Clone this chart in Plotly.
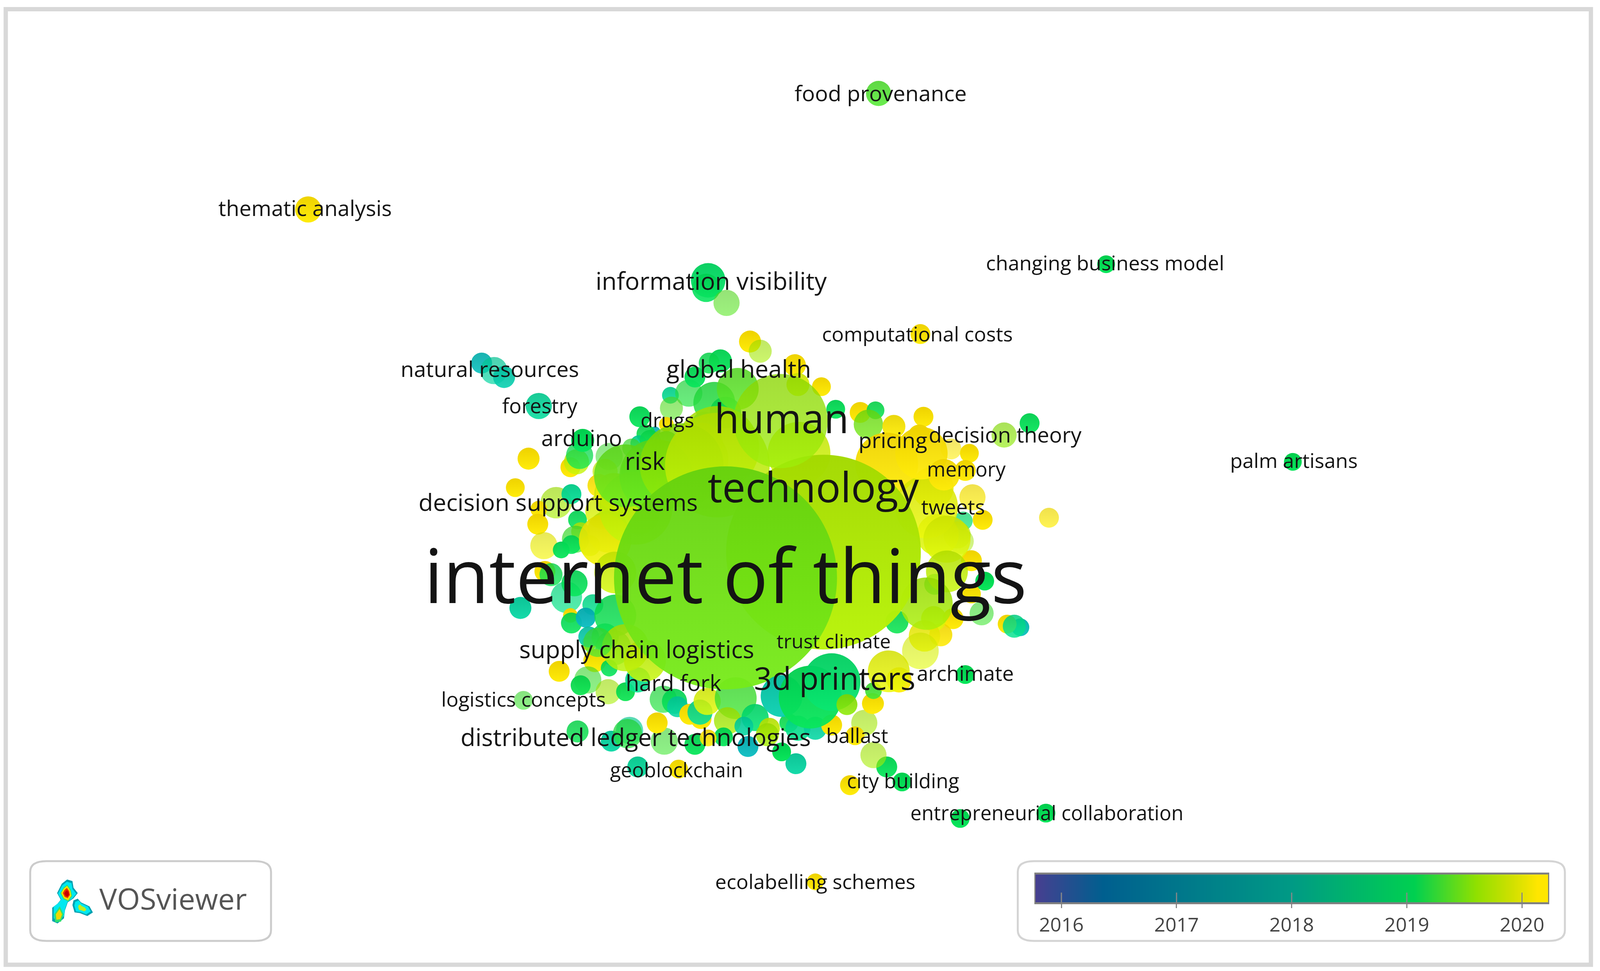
import numpy as np
import plotly.graph_objects as go

# coordinates are read in a 1568 x 904 view of the picture.
# the browser clamps the page to 4096 wide, so the figure fills that instead of 4310
VIEW_W = 1568
VIEW_H = 904
FIG_W = 4096
FIG_H = 2486
REF_W = 4310
PX = (FIG_W / VIEW_W * FIG_H / VIEW_H) ** 0.5
TEXT_K = 0.96

labels = ["internet of things", "technology", "human", "3d printers", "information visibility",
          "decision support systems", "supply chain logistics", "distributed ledger technologies",
          "global health", "natural resources", "food provenance", "thematic analysis",
          "changing business model", "computational costs", "forestry", "drugs", "arduino", "risk",
          "pricing", "decision theory", "memory", "tweets", "palm artisans", "trust climate",
          "hard fork", "archimate", "logistics concepts", "ballast", "geoblockchain",
          "city building", "entrepreneurial collaboration", "ecolabelling schemes"]
label_x = [711, 797, 766, 818, 697, 547, 624, 623, 724, 480, 863, 299, 1083, 899, 529, 654, 570, 632,
           875, 985, 947, 934, 1268, 817, 660, 946, 513, 840, 663, 885, 1026, 799]
label_y = [544, 458, 394, 635, 264, 470, 607, 689, 346, 346, 89, 196, 247, 313, 380, 393, 410, 432,
           412, 407, 439, 474, 431, 599, 638, 629, 653, 687, 719, 729, 759, 823]
label_size = [200, 110, 108, 84, 65, 63, 64, 64.5, 64, 58, 58, 57.5, 54, 54, 55, 54, 59, 64,
              58, 57, 53.5, 55, 54, 52, 59, 55, 54, 54, 53, 53.5, 53, 54]

node_x = [861, 302, 694, 692, 712, 1084, 902, 472, 484, 494,
          528, 1267, 1028, 984, 1009, 510, 513, 799, 941, 1025,
          946, 833, 884, 869, 856, 847, 857, 780, 766, 733,
          665, 625, 599, 617, 615, 566, 651, 681, 644, 548,
          518, 505, 735, 745, 779, 805, 905, 1000, 987, 994,
          962, 965, 952, 963, 953, 950, 932, 946, 944, 938,
          942, 952, 916, 934, 922, 915, 906, 902, 879, 881,
          559, 565, 568, 571, 627, 597, 593, 587, 545, 560,
          528, 527, 533, 534, 566, 569, 564, 550, 578, 560,
          540, 555, 563, 559, 560, 581, 574, 577, 577, 593,
          601, 583, 597, 576, 569, 596, 613, 625, 650, 661,
          664, 676, 687, 686, 693, 721, 713, 740, 729, 709,
          694, 754, 752, 773, 782, 799, 815, 838, 855, 856,
          657, 675, 681, 706, 695, 658, 642, 653, 690, 700,
          711, 633, 626, 637, 653, 619, 626, 623, 646, 651,
          603, 591, 596, 626, 601, 683, 688, 723, 703, 783,
          843, 858, 851, 876, 901, 869, 914, 919, 782, 819,
          908, 928, 928, 908, 903, 925, 593, 603, 623, 613, 643, 668, 703, 603, 613, 632, 586,
          807, 711, 765, 766, 794, 815, 871, 830]
node_y = [87, 195, 261, 268, 282, 246, 311, 338, 345, 351,
          378, 430, 482, 405, 394, 566, 652, 821, 762, 757,
          628, 731, 728, 714, 703, 673, 655, 711, 700, 695,
          716, 714, 690, 680, 683, 681, 690, 693, 673, 625,
          427, 454, 318, 327, 340, 360, 388, 584, 581, 583,
          571, 541, 553, 484, 463, 422, 418, 438, 485, 498,
          504, 522, 544, 576, 591, 576, 592, 606, 579, 633,
          435, 430, 424, 410, 388, 425, 439, 452, 468, 460,
          474, 488, 508, 532, 484, 495, 502, 512, 508, 507,
          535, 556, 543, 573, 580, 563, 575, 599, 593, 593,
          603, 615, 622, 633, 638, 644, 644, 633, 651, 653,
          658, 665, 669, 663, 653, 650, 671, 668, 676, 686,
          687, 678, 684, 673, 678, 678, 675, 685, 655, 643,
          368, 366, 351, 336, 338, 380, 402, 395, 395, 375,
          384, 404, 413, 410, 413, 417, 439, 450, 428, 435,
          460, 476, 495, 478, 457, 428, 413, 362, 417, 422,
          384, 382, 395, 397, 406, 432, 454, 498, 358, 381,
          472, 502, 532, 562, 422, 442, 503, 533, 473, 443, 443, 433, 433, 573, 603, 615, 598,
          514, 538, 392, 648, 649, 635, 625, 656]
node_weight = [24, 25, 33, 27, 25, 17, 19, 20, 26, 21,
               25, 17, 19, 24, 19, 21, 18, 16, 18, 18,
               18, 19, 18, 20, 25, 25, 18, 20, 18, 20,
               18, 20, 20, 26, 28, 21, 26, 20, 20, 20,
               21, 18, 21, 22, 21, 18, 19, 17, 18, 22,
               23, 18, 18, 19, 25, 18, 20, 20, 18, 26,
               24, 20, 20, 20, 22, 24, 30, 35, 22, 24,
               19, 24, 26, 22, 20, 26, 24, 22, 30, 19,
               16, 20, 26, 20, 18, 18, 26, 16, 20, 18,
               22, 30, 25, 14, 20, 20, 19, 14, 20, 26,
               34, 22, 16, 26, 19, 24, 18, 24, 26, 24,
               20, 20, 20, 24, 26, 40, 26, 26, 18, 18,
               16, 20, 22, 18, 24, 22, 20, 18, 20, 16,
               16, 26, 20, 22, 20, 22, 10, 14, 24, 40,
               30, 18, 16, 20, 24, 18, 34, 24, 34, 50,
               40, 34, 40, 40, 34, 60, 40, 40, 80, 60,
               20, 17, 28, 22, 22, 60, 40, 40, 22, 18,
               60, 45, 40, 50, 50, 30, 50, 40, 70, 60, 70, 80, 100, 40, 45, 40, 28,
               186, 213, 90, 40, 60, 55, 40, 20]
node_year = [2019.35, 2020.2, 2018.9, 2019.0, 2019.4, 2019.05, 2020.2, 2017.6, 2018.2, 2018.0,
             2018.3, 2019.05, 2020.1, 2019.6, 2019.05, 2018.2, 2019.3, 2020.2, 2019.05, 2019.05,
             2019.05, 2020.2, 2019.05, 2019.05, 2019.7, 2019.7, 2020.2, 2018.2, 2019.05, 2017.5,
             2020.2, 2018.3, 2018.2, 2018.3, 2019.2, 2019.1, 2019.3, 2019.05, 2020.2, 2020.2,
             2020.2, 2020.2, 2020.2, 2019.7, 2020.2, 2020.2, 2020.2, 2017.7, 2020.2, 2018.5,
             2019.3, 2019.05, 2020.2, 2020.2, 2020.1, 2020.2, 2020.1, 2020.2, 2018.8, 2019.8,
             2019.7, 2020.2, 2019.1, 2020.2, 2020.2, 2019.9, 2020.0, 2019.9, 2019.1, 2020.1,
             2020.2, 2019.8, 2019.1, 2019.05, 2019.05, 2019.3, 2019.8, 2020.2, 2019.7, 2018.4,
             2020.2, 2020.2, 2020.0, 2020.2, 2019.05, 2019.8, 2019.3, 2019.05, 2019.7, 2019.05,
             2019.1, 2018.6, 2019.05, 2020.2, 2019.05, 2018.5, 2017.5, 2020.2, 2018.0, 2018.9,
             2019.1, 2020.1, 2019.05, 2019.3, 2019.1, 2019.7, 2019.1, 2018.5, 2019.2, 2019.05,
             2018.2, 2020.2, 2020.2, 2018.4, 2019.9, 2019.3, 2019.7, 2018.8, 2018.2, 2019.05,
             2020.2, 2019.8, 2019.7, 2019.1, 2018.5, 2018.2, 2020.2, 2020.2, 2020.2, 2019.3,
             2018.4, 2019.2, 2019.05, 2019.05, 2019.1, 2019.4, 2017.5, 2020.2, 2018.4, 2019.2,
             2019.1, 2019.1, 2018.4, 2019.1, 2019.2, 2019.3, 2019.2, 2019.1, 2019.2, 2019.3,
             2019.8, 2019.9, 2019.8, 2019.7, 2020.0, 2019.6, 2019.8, 2019.4, 2019.75, 2019.85,
             2020.2, 2019.1, 2019.5, 2020.1, 2020.2, 2020.15, 2020.0, 2019.9, 2019.9, 2019.05,
             2019.95, 2019.9, 2019.8, 2019.7, 2020.15, 2020.15, 2020.0, 2019.85, 2019.8, 2019.45,
             2019.45, 2019.6, 2019.8, 2019.1, 2019.75, 2019.8, 2019.3,
             2019.75, 2019.5, 2019.65, 2018.0, 2019.05, 2018.85, 2019.95, 2019.6]
node_alpha = [.85, 1, .95, .9, .6, 1, 1, .9, .7, .9,
              .9, 1, .7, .65, .95, .95, .6, 1, 1, 1,
              1, 1, 1, .95, .6, .6, 1, .95, 1, .95,
              1, .95, .95, .65, .75, .85, .6, .95, 1, 1,
              1, 1, 1, .6, 1, 1, 1, .95, 1, .85,
              .6, 1, 1, 1, .7, 1, .6, 1, .7, .7,
              .5, 1, .8, 1, .9, .85, .85, .6, .9, .95,
              1, .8, .75, 1, .95, .55, .7, .9, .65, .95,
              1, 1, .65, 1, .9, .8, .7, .95, .8, .9,
              .8, .7, .9, 1, .9, .85, .95, 1, .9, .85,
              .7, 1, .9, .6, .95, .6, .95, .9, .7, .9,
              .9, 1, 1, .9, .85, .8, .8, .9, .9, .95,
              .9, .9, .85, .9, .9, .9, 1, 1, 1, .9,
              .9, .7, .95, .95, .85, .6, .9, 1, .9, .85,
              .85, .9, .9, .85, .85, .7, .85, .9, .85, .8,
              .75, .8, .8, .8, .8, .8, .85, .85, .85, .85,
              1, .9, .8, .95, 1, .95, .85, .85, .9, .95,
              .85, .85, .85, .85, .95, .95, .9, .85, .85, .85, .85, .85, .85, .85, .85, .85, .7,
              .98, .95, .78, .95, .95, .95, .85, .9]

legend_years = [2016, 2017, 2018, 2019, 2020]
legend_min = 2015.774
legend_max = 2020.226
scale_pos = [0.0, 0.132, 0.5, 0.74, 0.86, 0.93, 0.98, 1.0]
scale_rgb = [(71, 63, 144), (0, 95, 143), (0, 154, 133), (0, 208, 80),
             (144, 224, 0), (208, 224, 0), (255, 230, 0), (255, 230, 0)]
# the bubbles run brighter in the teal part than the legend bar does
bubble_pos = [0.0, 0.132, 0.35, 0.5, 0.62, 0.74, 0.86, 0.93, 0.98, 1.0]
bubble_rgb = [(71, 63, 144), (0, 110, 165), (0, 160, 175), (0, 185, 155), (0, 205, 125),
              (0, 205, 75), (125, 210, 0), (205, 225, 0), (238, 210, 0), (238, 210, 0)]


def css(rgb):
    return f"rgb({int(rgb[0])},{int(rgb[1])},{int(rgb[2])})"


def bubble_top_color(year):
    t = (year - legend_min) / (legend_max - legend_min)
    rgb = [np.interp(t, bubble_pos, [c[i] for c in bubble_rgb]) for i in range(3)]
    return css([min(255, c * 1.08 + 10) for c in rgb])


legend_scale = [[p, css(c)] for p, c in zip(scale_pos, scale_rgb)]
bubble_scale = [[p, css(c)] for p, c in zip(bubble_pos, bubble_rgb)]
bubble_top = [bubble_top_color(y) for y in node_year]

assert len(node_x) == len(node_y) == len(node_weight) == len(node_year) == len(node_alpha)

fig = go.Figure()

fig.add_trace(go.Scatter(
    x=node_x, y=node_y, mode="markers", hoverinfo="skip", showlegend=False,
    marker=dict(
        size=[w * PX for w in node_weight],
        color=node_year, colorscale=bubble_scale, cmin=legend_min, cmax=legend_max,
        opacity=node_alpha, line=dict(width=0),
        gradient=dict(type="vertical", color=bubble_top),
    ),
))

fig.add_trace(go.Scatter(
    x=label_x, y=label_y, text=labels, mode="text", hoverinfo="skip", showlegend=False,
    textposition="middle center",
    textfont=dict(family="Open Sans", size=[s * TEXT_K for s in label_size], color="#141414"),
))

fig.add_trace(go.Scatter(
    x=[169.6], y=[840], text=["VOSviewer"], mode="text", hoverinfo="skip", showlegend=False,
    textposition="middle center",
    textfont=dict(family="Open Sans", size=79 * TEXT_K, color="#555555"),
))

# legend bar
fig.add_trace(go.Heatmap(
    x0=legend_min, dx=(legend_max - legend_min) / 511, y=[0, 1],
    z=np.tile(np.linspace(legend_min, legend_max, 512), (2, 1)),
    colorscale=legend_scale, zmin=legend_min, zmax=legend_max,
    showscale=False, hoverinfo="skip", xaxis="x2", yaxis="y2",
))
tick_x = []
tick_y = []
for year in legend_years:
    tick_x += [year, year, None]
    tick_y += [-0.37, 0.35, None]
fig.add_trace(go.Scatter(
    x=tick_x, y=tick_y, mode="lines", hoverinfo="skip", showlegend=False, cliponaxis=False,
    line=dict(color="#888888", width=3), xaxis="x2", yaxis="y2",
))


def rounded_box(x0, y0, x1, y1, rx=16, ry=10):
    return (f"M{x0 + rx},{y0} L{x1 - rx},{y0} Q{x1},{y0} {x1},{y0 + ry} L{x1},{y1 - ry} "
            f"Q{x1},{y1} {x1 - rx},{y1} L{x0 + rx},{y1} Q{x0},{y1} {x0},{y1 - ry} "
            f"L{x0},{y0 + ry} Q{x0},{y0} {x0 + rx},{y0} Z")


def blob(points, cx, cy, k=1.0):
    # logo blobs are given in crop pixels of the logo
    pts = [(cx + (px - cx) * k, cy + (py - cy) * k) for px, py in points]
    pts = [(p[0] * 0.2088, 781.8 + p[1] * 0.1241) for p in pts]
    return "M" + " L".join(f"{a:.2f},{b:.2f}" for a, b in pts) + " Z"


logo_top = [(315, 298), (340, 310), (345, 360), (365, 400), (345, 440), (318, 470), (305, 530), (300, 590),
            (270, 628), (245, 610), (245, 510), (270, 480), (285, 450), (268, 400), (290, 330)]
logo_head = [(315, 345), (330, 380), (335, 420), (320, 455), (300, 440), (287, 400), (300, 365)]
logo_foot = [(280, 510), (295, 560), (285, 605), (262, 610), (258, 560)]
logo_side = [(365, 442), (380, 470), (420, 500), (436, 545), (410, 572), (375, 550), (350, 545), (340, 490), (345, 455)]

shapes = [
    dict(type="rect", xref="paper", yref="paper", x0=15.5 / REF_W, x1=4285.5 / REF_W,
         y0=1 - 2470 / FIG_H, y1=1 - 23.5 / FIG_H,
         line=dict(color="#d8d8d8", width=11), layer="below"),
    dict(type="path", path=rounded_box(29.6, 801.7, 265.6, 876), line=dict(color="#cccccc", width=5), layer="below"),
    dict(type="path", path=rounded_box(997.4, 801.7, 1533.6, 876), line=dict(color="#d4d4d4", width=5), layer="below"),
]
shapes += [
    dict(type="path", path=blob(logo_top, 305, 460), fillcolor="#00a0b0", line=dict(width=0)),
    dict(type="path", path=blob(logo_side, 385, 510), fillcolor="#00a0b0", line=dict(width=0)),
    dict(type="path", path=blob(logo_top, 305, 440, 0.88), fillcolor="#00e8f0", line=dict(width=0)),
    dict(type="path", path=blob(logo_side, 385, 510, 0.8), fillcolor="#00e8f0", line=dict(width=0)),
    dict(type="path", path=blob(logo_head, 312, 400, 1.15), fillcolor="#30e070", line=dict(width=0)),
    dict(type="path", path=blob(logo_foot, 277, 560, 1.2), fillcolor="#30e070", line=dict(width=0)),
    dict(type="path", path=blob(logo_head, 312, 400), fillcolor="#f0e000", line=dict(width=0)),
    dict(type="path", path=blob(logo_foot, 277, 560, 0.8), fillcolor="#f0d800", line=dict(width=0)),
    dict(type="path", path=blob(logo_side, 385, 515, 0.4), fillcolor="#c0ee20", line=dict(width=0)),
    dict(type="path", path=blob(logo_head, 312, 400, 0.7), fillcolor="#f03000", line=dict(width=0)),
    dict(type="path", path=blob(logo_head, 314, 405, 0.45), fillcolor="#c80000", line=dict(width=0)),
]

fig.update_layout(
    width=FIG_W, height=FIG_H, autosize=False,
    margin=dict(l=0, r=0, t=0, b=0),
    paper_bgcolor="white", plot_bgcolor="white",
    showlegend=False, shapes=shapes,
    font=dict(family="Open Sans"),
    xaxis=dict(range=[0, VIEW_W], visible=False, domain=[0, 1]),
    yaxis=dict(range=[VIEW_H, 0], visible=False, domain=[0, 1]),
    xaxis2=dict(
        range=[legend_min, legend_max], domain=[2789 / REF_W, 4170 / REF_W], anchor="y2",
        tickvals=legend_years, ticktext=[str(y) for y in legend_years],
        ticks="outside", ticklen=10, tickwidth=3, tickcolor="#888888",
        tickfont=dict(family="Open Sans", size=50, color="#444444"),
        showline=True, linecolor="#808080", linewidth=5, mirror=True, showgrid=False, zeroline=False,
    ),
    yaxis2=dict(
        range=[0, 1], domain=[1 - 2310 / FIG_H, 1 - 2239 / FIG_H], anchor="x2",
        showticklabels=False, ticks="", showgrid=False, zeroline=False,
        showline=True, linecolor="#808080", linewidth=3, mirror=True,
    ),
)

fig.write_html("out.html", config={"displayModeBar": False}, post_script="document.body.style.margin='0';")
